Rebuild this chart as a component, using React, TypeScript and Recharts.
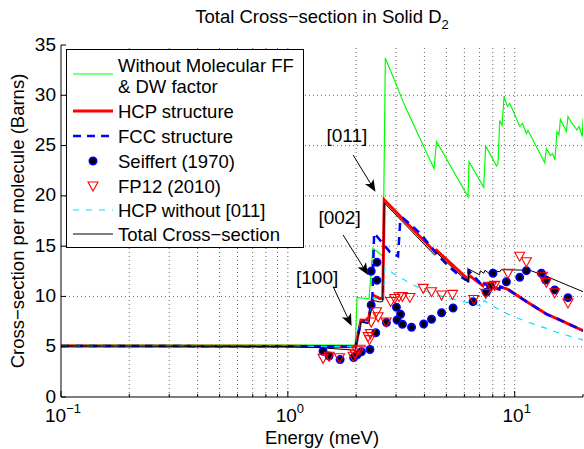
import React from "react";
import {
  ComposedChart,
  Line,
  XAxis,
  YAxis,
  ReferenceLine,
  ReferenceDot,
} from "recharts";

type Pt = [number, number];

const FONT = '"Liberation Sans", Arial, Helvetica, sans-serif';

// energy (meV), cross-section (barns)
const withoutFF: Pt[] = [
  [0.1, 5.15], [1.98, 5.15], [2.02, 9.9], [2.28, 9.75], [2.37, 14.8], [2.53, 14.3],
  [2.63, 14.0], [2.69, 33.7], [3.3, 28.8], [4.41, 22.7], [4.52, 25.4], [6.23, 19.9],
  [6.29, 23.4], [7.3, 20.85], [7.45, 24.96], [8.31, 22.97], [8.44, 23.2], [8.59, 27.5],
  [8.8, 27.0], [8.97, 29.86], [9.29, 28.9], [9.51, 29.2], [9.77, 28.6], [10.52, 26.9],
  [10.81, 27.2], [11.26, 26.2], [11.45, 26.5], [13.56, 23.3], [13.79, 24.7], [14.37, 24.0],
  [14.66, 24.2], [15.05, 23.6], [15.36, 26.4], [15.67, 26.05], [15.9, 27.6], [16.9, 26.4],
  [17.17, 27.9], [17.77, 27.3], [18.81, 26.55], [19.2, 26.9], [19.87, 25.9], [20, 27.7],
];

const hcp: Pt[] = [
  [0.1, 5.07], [1.0, 5.05], [1.99, 5.0], [2.1, 7.65], [2.26, 7.6], [2.38, 10.1],
  [2.54, 9.8], [2.62, 9.8], [2.66, 19.6], [4.44, 14.45], [4.52, 14.6], [6.23, 11.7],
  [6.29, 12.1], [7.25, 11.05], [7.35, 11.3], [8.55, 10.7], [8.65, 10.95], [9.34, 10.7],
  [11.26, 9.5], [13.79, 8.25], [15.79, 7.66], [20, 6.6],
];

const fcc: Pt[] = [
  [0.1, 5.07], [1.0, 5.05], [1.99, 5.0], [2.1, 7.5], [2.26, 7.45], [2.36, 10.0],
  [2.4, 16.3], [2.81, 14.45], [3.06, 14.0], [3.13, 17.6], [3.22, 17.8], [3.82, 16.3],
  [4.22, 15.1], [4.67, 13.9], [5.17, 12.9], [5.82, 11.9], [6.23, 11.55], [6.26, 12.6],
  [7.25, 11.0], [7.35, 11.25], [8.55, 10.7], [8.65, 10.95], [9.34, 10.7], [11.26, 9.5],
  [13.79, 8.25], [15.79, 7.66], [20, 6.6],
];

const seiffert: Pt[] = [
  [1.43, 4.55], [1.52, 4.08], [1.7, 3.72], [1.95, 3.92], [2.02, 4.2], [2.11, 4.5],
  [2.3, 4.72], [2.44, 6.39], [2.33, 9.15], [2.33, 12.5], [2.47, 11.6], [2.47, 13.4],
  [2.72, 7.4], [3.01, 8.92], [3.14, 8.22], [3.03, 7.66], [3.2, 7.23], [3.51, 6.93],
  [3.97, 7.26], [4.3, 7.73], [4.76, 8.38], [5.35, 8.85], [6.55, 9.48], [7.5, 10.41],
  [7.82, 11.04], [8.02, 12.3], [9.19, 11.46], [10.52, 11.9], [11.26, 12.56], [13.11, 12.3],
  [13.7, 11.63], [15.01, 10.64], [17.17, 9.88],
];

const fp12: Pt[] = [
  [1.43, 3.85], [1.52, 4.05], [1.69, 3.9], [1.94, 4.05], [1.98, 4.25], [2.02, 4.6],
  [2.08, 4.75], [2.26, 6.0], [2.29, 5.7], [2.31, 6.3], [2.33, 7.45], [2.46, 8.48],
  [2.5, 7.98], [2.71, 7.45], [2.84, 9.5], [2.96, 9.8], [3.09, 9.97], [3.2, 10.0],
  [3.45, 9.9], [3.95, 10.8], [4.3, 10.47], [4.76, 10.14], [5.32, 10.2], [6.6, 9.7],
  [7.45, 10.3], [7.89, 11.0], [8.16, 11.1], [9.34, 12.3], [10.52, 14.0], [11.26, 13.45],
  [13.24, 12.0], [13.79, 11.4], [15.0, 10.35], [17.17, 9.35],
];

const hcpNo011: Pt[] = [
  [0.1, 5.07], [1.0, 5.05], [1.99, 5.0], [2.1, 7.55], [2.26, 7.5], [2.38, 9.9],
  [2.54, 9.65], [2.62, 9.65], [2.68, 12.9], [2.91, 12.3], [3.57, 11.14], [4.3, 10.3],
  [5.17, 9.8], [6.0, 9.45], [6.55, 9.3], [7.25, 8.95], [7.32, 9.6], [8.31, 8.85],
  [9.51, 8.15], [11.26, 7.49], [13.79, 6.83], [15.79, 6.33], [20, 5.67],
];

const total: Pt[] = [
  [0.1, 5.07], [1.0, 5.02], [1.4, 4.9], [1.8, 4.72], [1.98, 4.65], [2.1, 7.45],
  [2.26, 7.3], [2.38, 9.6], [2.54, 9.45], [2.62, 9.5], [2.66, 19.3], [4.44, 14.1],
  [4.52, 14.35], [6.23, 11.4], [6.29, 12.7], [7.0, 12.15], [7.05, 12.55], [7.3, 12.3],
  [7.4, 12.6], [7.7, 12.3], [8.0, 12.6], [8.6, 12.45], [8.7, 12.65], [9.2, 12.65],
  [11.65, 12.6], [13.79, 12.0], [16.33, 11.3], [20, 10.47],
];

const xTicks = [0.1, 0.2, 0.3, 0.4, 0.5, 0.6, 0.7, 0.8, 0.9, 1, 2, 3, 4, 5, 6, 7, 8, 9, 10, 20];
const yTicks = [0, 5, 10, 15, 20, 25, 30, 35];
const decadeExp: Record<string, string> = { "0.1": "−1", "1": "0", "10": "1" };

const peakLabels = [
  { text: "[011]", at: [1.82, 26.05], from: [1.94, 24.06], to: [2.434, 20.41] },
  { text: "[002]", at: [1.69, 17.93], from: [1.752, 16.11], to: [2.258, 12.13] },
  { text: "[100]", at: [1.346, 11.9], from: [1.584, 10.97], to: [1.909, 7.06] },
];

const pts = (a: Pt[]) => a.map(([x, y]) => ({ x, y }));

const BottomTick = (p: any) => {
  const exp = decadeExp[String(p.payload.value)];
  const major = exp !== undefined;
  return (
    <g>
      <line x1={p.x} x2={p.x} y1={p.y} y2={p.y - (major ? 6 : 3)} stroke="#000" />
      {major && (
        <text x={p.x + 2} y={p.y + 25} textAnchor="middle" fontFamily={FONT} fontSize={19} fill="#000">
          10<tspan dy={-9} fontSize={13}>{exp}</tspan>
        </text>
      )}
    </g>
  );
};

const TopTick = (p: any) => {
  const major = decadeExp[String(p.payload.value)] !== undefined;
  return <line x1={p.x} x2={p.x} y1={p.y} y2={p.y + (major ? 6 : 3)} stroke="#000" />;
};

const LeftTick = (p: any) => (
  <g>
    <line x1={p.x} x2={p.x + 5} y1={p.y} y2={p.y} stroke="#000" />
    <text x={p.x - 5} y={p.y + 5.5} textAnchor="end" fontFamily={FONT} fontSize={19} fill="#000">
      {p.payload.value}
    </text>
  </g>
);

const RightTick = (p: any) => <line x1={p.x} x2={p.x - 5} y1={p.y} y2={p.y} stroke="#000" />;

const SeiffertDot = (p: any) =>
  p.cx == null ? <g key={p.key} /> : (
    <circle key={p.key} cx={p.cx} cy={p.cy} r={3.7} fill="#000" stroke="#0000ff" strokeWidth={1.6} />
  );

const FpTriangle = (p: any) =>
  p.cx == null ? <g key={p.key} /> : (
    <path
      key={p.key}
      d={`M${p.cx - 5},${p.cy - 4}L${p.cx + 5},${p.cy - 4}L${p.cx},${p.cy + 5}Z`}
      fill="none"
      stroke="#ff0000"
      strokeWidth={1.1}
    />
  );

const Arrow = (p: any) => {
  const { x1, y1, x2, y2 } = p;
  const dx = x2 - x1;
  const dy = y2 - y1;
  const len = Math.hypot(dx, dy) || 1;
  const ux = dx / len;
  const uy = dy / len;
  const L = 12;
  const W = 5;
  const bx = x2 - ux * L;
  const by = y2 - uy * L;
  const nx = x2 - ux * L * 0.75;
  const ny = y2 - uy * L * 0.75;
  return (
    <g>
      <line x1={x1} y1={y1} x2={nx} y2={ny} stroke="#000" strokeWidth={1} />
      <path
        d={`M${x2},${y2}L${bx - uy * W},${by + ux * W}L${nx},${ny}L${bx + uy * W},${by - ux * W}Z`}
        fill="#000"
      />
    </g>
  );
};

const PeakText = (text: string) => (p: any) => (
  <text x={p.cx} y={p.cy + 7} textAnchor="middle" fontFamily={FONT} fontSize={19} fill="#000">
    {text}
  </text>
);

function Legend() {
  const sx1 = 73;
  const sx2 = 113;
  const tx = 118;
  const t = (y: number, s: string) => (
    <text x={tx} y={y + 6.5} fontFamily={FONT} fontSize={18.5} fill="#000">{s}</text>
  );
  return (
    <g>
      <rect x={66.5} y={49.5} width={237} height={198} fill="#fff" stroke="#000" />
      <line x1={sx1} x2={sx2} y1={74} y2={74} stroke="#00ff00" strokeWidth={1.2} />
      {t(65, "Without Molecular FF")}
      {t(86, "& DW factor")}
      <line x1={sx1} x2={sx2} y1={111} y2={111} stroke="#ff0000" strokeWidth={3} />
      {t(111, "HCP structure")}
      <line x1={sx1} x2={sx2} y1={136} y2={136} stroke="#0000ff" strokeWidth={2.5} strokeDasharray="8 6" />
      {t(136, "FCC structure")}
      <circle cx={93} cy={161} r={3.7} fill="#000" stroke="#0000ff" strokeWidth={1.6} />
      {t(161, "Seiffert (1970)")}
      <path d="M88,182L98,182L93,191Z" fill="none" stroke="#ff0000" strokeWidth={1.1} />
      {t(186, "FP12 (2010)")}
      <line x1={sx1} x2={sx2} y1={210} y2={210} stroke="#00e5ff" strokeWidth={1.2} strokeDasharray="6 7" />
      {t(210, "HCP without [011]")}
      <line x1={sx1} x2={sx2} y1={234} y2={234} stroke="#000" strokeWidth={1} />
      {t(234, "Total Cross−section")}
    </g>
  );
}

const gridStyle = { stroke: "#666", strokeDasharray: "1 3", strokeWidth: 1 };

export default function App() {
  return (
    <div style={{ position: "absolute", left: 0, top: 0, width: 584, height: 449, background: "#fff" }}>
      <ComposedChart width={584} height={449} margin={{ top: 45, right: 1, bottom: 0, left: 0 }}>
        <XAxis
          dataKey="x"
          type="number"
          scale="log"
          domain={[0.1, 20]}
          allowDataOverflow
          ticks={xTicks}
          interval={0}
          height={52}
          tickSize={0}
          tickMargin={0}
          tickLine={false}
          axisLine={{ stroke: "#000" }}
          tick={BottomTick}
        />
        <XAxis
          xAxisId="top"
          orientation="top"
          dataKey="x"
          type="number"
          scale="log"
          domain={[0.1, 20]}
          allowDataOverflow
          ticks={xTicks}
          interval={0}
          height={0}
          tickSize={0}
          tickMargin={0}
          tickLine={false}
          axisLine={{ stroke: "#000" }}
          tick={TopTick}
        />
        <YAxis
          type="number"
          domain={[0, 35]}
          ticks={yTicks}
          interval={0}
          width={61}
          tickSize={0}
          tickMargin={0}
          tickLine={false}
          axisLine={{ stroke: "#000" }}
          tick={LeftTick}
        />
        <YAxis
          yAxisId="right"
          orientation="right"
          type="number"
          domain={[0, 35]}
          ticks={yTicks}
          interval={0}
          width={0}
          tickSize={0}
          tickMargin={0}
          tickLine={false}
          axisLine={{ stroke: "#000" }}
          tick={RightTick}
        />

        {xTicks.slice(1, -1).map((t) => (
          <ReferenceLine key={`gx-${t}`} x={t} {...gridStyle} />
        ))}
        {yTicks.slice(1, -1).map((t) => (
          <ReferenceLine key={`gy-${t}`} y={t} {...gridStyle} />
        ))}

        <Line data={pts(withoutFF)} dataKey="y" stroke="#00ff00" strokeWidth={1.2} dot={false} isAnimationActive={false} />
        <Line data={pts(hcp)} dataKey="y" stroke="#ff0000" strokeWidth={3} dot={false} isAnimationActive={false} />
        <Line data={pts(fcc)} dataKey="y" stroke="#0000ff" strokeWidth={2.5} strokeDasharray="8 6" dot={false} isAnimationActive={false} />
        <Line data={pts(seiffert)} dataKey="y" stroke="none" dot={SeiffertDot} activeDot={false} isAnimationActive={false} />
        <Line data={pts(fp12)} dataKey="y" stroke="none" dot={FpTriangle} activeDot={false} isAnimationActive={false} />
        <Line data={pts(hcpNo011)} dataKey="y" stroke="#00e5ff" strokeWidth={1.2} strokeDasharray="6 7" dot={false} isAnimationActive={false} />
        <Line data={pts(total)} dataKey="y" stroke="#000" strokeWidth={1} dot={false} isAnimationActive={false} />

        {peakLabels.map((a) => (
          <ReferenceLine
            key={`arrow-${a.text}`}
            segment={[{ x: a.from[0], y: a.from[1] }, { x: a.to[0], y: a.to[1] }]}
            shape={Arrow}
            ifOverflow="visible"
          />
        ))}
        {peakLabels.map((a) => (
          <ReferenceDot
            key={`label-${a.text}`}
            x={a.at[0]}
            y={a.at[1]}
            r={0}
            shape={PeakText(a.text)}
            ifOverflow="visible"
          />
        ))}
      </ComposedChart>

      <svg width={584} height={449} style={{ position: "absolute", left: 0, top: 0, pointerEvents: "none" }}>
        <text x={322} y={23} textAnchor="middle" fontFamily={FONT} fontSize={18.5} fill="#000">
          Total Cross−section in Solid D<tspan dy={6} fontSize={13}>2</tspan>
        </text>
        <text x={322} y={444} textAnchor="middle" fontFamily={FONT} fontSize={18.5} fill="#000">
          Energy (meV)
        </text>
        <text
          x={24}
          y={221}
          textAnchor="middle"
          transform="rotate(-90 24 221)"
          fontFamily={FONT}
          fontSize={18.5}
          fill="#000"
        >
          Cross−section per molecule (Barns)
        </text>
        <Legend />
      </svg>
    </div>
  );
}
